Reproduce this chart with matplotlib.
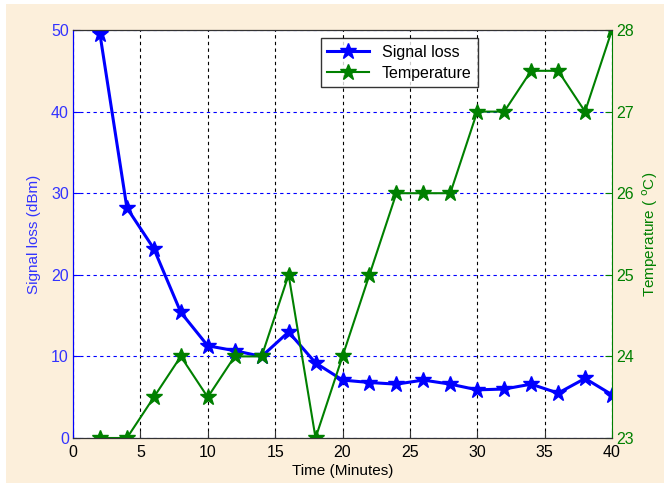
import numpy as np
import matplotlib.pyplot as plt
from matplotlib.patches import Rectangle

plt.rcParams['font.family'] = ['Liberation Sans', 'DejaVu Sans']

# data
time_min = [2, 4, 6, 8, 10, 12, 14, 16, 18, 20, 22, 24, 26, 28, 30, 32, 34, 36, 38, 40]
signal_loss = [49.5, 28.2, 23.2, 15.4, 11.3, 10.7, 10.0, 13.0, 9.2, 7.1,
               6.8, 6.6, 7.1, 6.6, 5.9, 6.0, 6.6, 5.5, 7.3, 5.3]
temperature = [23, 23, 23.5, 24, 23.5, 24, 24, 25, 23, 24,
               25, 26, 26, 26, 27, 27, 27.5, 27.5, 27, 28]

BLUE = '#0000ff'
GREEN = '#008000'
BEIGE = '#fcefdb'

fig = plt.figure(figsize=(6.64, 4.83), dpi=100, facecolor='white')
fig.patches.append(Rectangle((6 / 664, 0), 1, 1 - 4 / 483, transform=fig.transFigure,
                             facecolor=BEIGE, edgecolor='none', zorder=-10))

ax1 = fig.add_axes([73 / 664, 1 - 438 / 483, 539 / 664, 408 / 483])
ax2 = ax1.twinx()

l1, = ax1.plot(time_min, signal_loss, color=BLUE, lw=2.2, marker='*', ms=12,
               label='Signal loss')
l2, = ax2.plot(time_min, temperature, color=GREEN, lw=1.5, marker='*', ms=12,
               label='Temperature')

ax1.set_xlim(0, 40)
ax1.set_ylim(0, 50)
ax2.set_ylim(23, 28)
ax1.set_xticks(np.arange(0, 41, 5))
ax1.set_yticks(np.arange(0, 51, 10))
ax2.set_yticks(np.arange(23, 29, 1))

ax1.grid(axis='x', color='black', linestyle=(0, (3, 3)), lw=0.8)
ax1.grid(axis='y', color=BLUE, linestyle=(0, (3, 3)), lw=0.8)
ax1.set_axisbelow(True)

for ax in (ax1, ax2):
    ax.tick_params(direction='in', length=5, labelsize=11.5, pad=3)
ax1.tick_params(axis='x', pad=5)
ax1.tick_params(axis='y', colors=BLUE, labelcolor='#3333ff')
ax1.tick_params(axis='x', colors='#333333', labelcolor='black')
ax2.tick_params(axis='y', colors=GREEN, labelcolor=GREEN)

ax1.spines['left'].set_color(BLUE)
ax2.spines['left'].set_color(BLUE)
ax2.spines['right'].set_color(GREEN)
ax1.spines['right'].set_visible(False)
for s in ('top', 'bottom'):
    ax2.spines[s].set_color('#333333')

ax1.set_xlabel('Time (Minutes)', fontsize=11, labelpad=3)
ax1.set_ylabel('Signal loss (dBm)', fontsize=11, color='#3333ff', labelpad=7)
ax2.set_ylabel('Temperature ( $^{\\mathrm{o}}$C)', fontsize=11, color=GREEN, labelpad=5)

leg = ax2.legend(handles=[l1, l2], loc='upper left', bbox_to_anchor=(0.46, 0.98),
                 fontsize=11.5, frameon=True, fancybox=False, borderaxespad=0,
                 handlelength=2.6, labelspacing=0.4)
leg.get_frame().set_edgecolor('black')
leg.get_frame().set_linewidth(1.0)

fig.savefig('out.png', dpi=100, facecolor=fig.get_facecolor())
